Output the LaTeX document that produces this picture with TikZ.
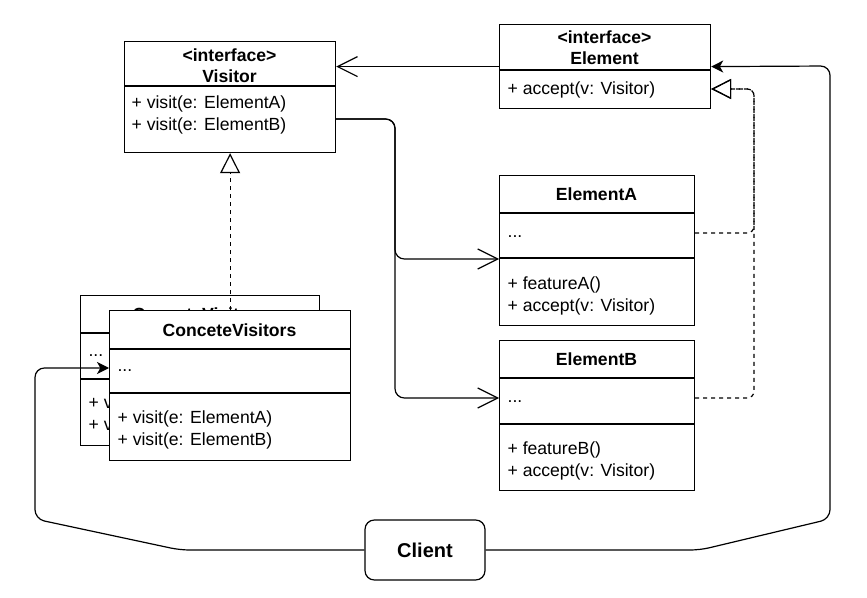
\documentclass[tikz,border=0pt]{standalone}
\usepackage{fontspec}
\setmainfont{Liberation Sans}
\usetikzlibrary{arrows.meta,positioning}

\def\px{0.75pt}
\tikzset{
  box/.style={draw, fill=white, inner sep=0pt, anchor=north west},
  txt/.style={font=\fontsize{13.2}{16.5}\selectfont, inner sep=0pt, align=left, anchor=west},
  ttl/.style={font=\fontsize{13.2}{15.8}\selectfont\bfseries, inner sep=0pt, align=center},
  assoc/.style={-{Straight Barb[length=15pt,width=15pt]}, rounded corners=7pt},
  call/.style={-{Stealth[length=9pt,width=9pt,inset=2.5pt]}, rounded corners=7pt},
  real/.style={dash pattern=on 3pt off 3pt, -{Triangle[open,length=15pt,width=15pt]}, rounded corners=5pt}
}

\begin{document}
\begin{tikzpicture}[x=\px, y=-\px, line width=0.9pt]
\useasboundingbox (0,0) rectangle (867,598);

%visitor
\node[box, minimum width=211*\px, minimum height=111*\px] (visitor) at (124,41) {};
\draw (visitor.west |- 0,86) -- (visitor.east |- 0,86);
\node[ttl] (visitorname) at (229.5,65.5) {<interface>\\Visitor};
\node[txt] (visitorops) at (131,115) {+ visit(e: ElementA)\\+ visit(e: ElementB)};

%element
\node[box, minimum width=211*\px, minimum height=84*\px] (element) at (499,24) {};
\draw (element.west |- 0,70) -- (element.east |- 0,70);
\node[ttl] (elementname) at (604.5,47.5) {<interface>\\Element};
\node[txt] (elementops) at (507,90) {+ accept(v: Visitor)};

%element a
\node[box, minimum width=195*\px, minimum height=150*\px] (elementA) at (499,175) {};
\draw (elementA.west |- 0,213) -- (elementA.east |- 0,213);
\draw (elementA.west |- 0,258) -- (elementA.east |- 0,258);
\node[ttl] (elementAname) at (596.5,194) {ElementA};
\node[txt] (elementAfields) at (507,237) {...};
\node[txt] (elementAops) at (507,295.5) {+ featureA()\\+ accept(v: Visitor)};

%element b
\node[box, minimum width=195*\px, minimum height=150*\px] (elementB) at (499,340) {};
\draw (elementB.west |- 0,378) -- (elementB.east |- 0,378);
\draw (elementB.west |- 0,424) -- (elementB.east |- 0,424);
\node[ttl] (elementBname) at (596.5,359) {ElementB};
\node[txt] (elementBfields) at (507,402) {...};
\node[txt] (elementBops) at (507,460.5) {+ featureB()\\+ accept(v: Visitor)};

%concrete visitors, back copy
\node[box, minimum width=239*\px, minimum height=150*\px] (cvback) at (80,295) {};
\draw (cvback.west |- 0,333) -- (cvback.east |- 0,333);
\draw (cvback.west |- 0,379) -- (cvback.east |- 0,379);
\node[ttl] (cvbackname) at (199.5,314) {ConceteVisitors};
\node[txt] (cvbackfields) at (88,356) {...};
\node[txt] (cvbackops) at (88,415) {+ visit(e: ElementA)\\+ visit(e: ElementB)};

%concrete visitors, front copy
\node[box, minimum width=241*\px, minimum height=150*\px] (cvfront) at (109,310) {};
\draw (cvfront.west |- 0,349) -- (cvfront.east |- 0,349);
\draw (cvfront.west |- 0,393) -- (cvfront.east |- 0,393);
\node[ttl] (cvfrontname) at (229.5,330) {ConceteVisitors};
\node[txt] (cvfrontfields) at (117,371) {...};
\node[txt] (cvfrontops) at (117,430) {+ visit(e: ElementA)\\+ visit(e: ElementB)};

%client
\node[draw, rounded corners=7pt, minimum width=120*\px, minimum height=60*\px, font=\fontsize{15}{18}\selectfont\bfseries] (client) at (425,550) {Client};

%arrows
\draw[assoc] (element.west) -- (element.west -| visitor.east);
\draw[assoc] (visitor.east |- 0,119) -- (395,119) -- (395,259) -- (elementA.west |- 0,259);
\draw[assoc] (visitor.east |- 0,119) -- (395,119) -- (395,398) -- (elementB.west |- 0,398);
\draw[real] (cvfront.north) -- (visitor.south);
\draw[real] (elementA.east |- 0,233) -- (754,233) -- (754,89) -- (element.east |- 0,89);
\draw[real] (elementB.east |- 0,398) -- (754,398) -- (754,89) -- (element.east |- 0,89);
\draw[call] (client.east) -- (700,550) -- (830,519) -- (830,66) -- (element.east);
\draw[call] (client.west) -- (180,550) -- (35,519) -- (35,368) -- (cvfront.west |- 0,368);
\end{tikzpicture}
\end{document}
